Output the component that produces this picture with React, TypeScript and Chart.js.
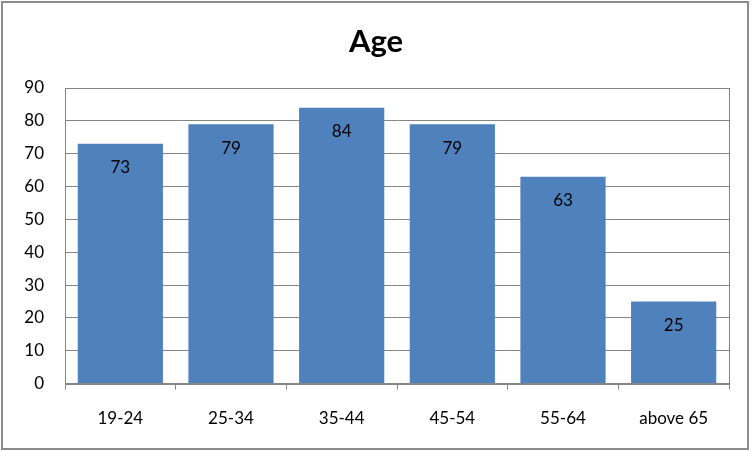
import React, { useEffect, useRef } from "react";
import { Chart, registerables } from "chart.js";

Chart.register(...registerables);

const categories = ["19-24", "25-34", "35-44", "45-54", "55-64", "above 65"];
const values = [73, 79, 84, 79, 63, 25];
const titleText = "Age";
const yMin = 0;
const yMax = 90;
const yStep = 10;

const FONT = "Lato, 'Open Sans', sans-serif";

const decorPlugin = {
  id: "decor",
  beforeDraw(chart: any) {
    const ctx = chart.ctx;
    ctx.save();
    ctx.fillStyle = "#ffffff";
    ctx.fillRect(0, 0, chart.width, chart.height);
    ctx.restore();
  },
  afterDraw(chart: any) {
    const ctx = chart.ctx;
    const a = chart.chartArea;
    ctx.save();
    // plot area box
    ctx.strokeStyle = "#868686";
    ctx.lineWidth = 1;
    ctx.strokeRect(Math.round(a.left) + 0.5, Math.round(a.top) + 0.5, Math.round(a.right - a.left), Math.round(a.bottom - a.top));
    // outer border
    ctx.strokeStyle = "#8c8c8c";
    ctx.lineWidth = 2;
    ctx.strokeRect(2, 2, chart.width - 7, chart.height - 4);
    // title
    ctx.fillStyle = "#000";
    ctx.font = `bold 31px ${FONT}`;
    ctx.textAlign = "center";
    ctx.textBaseline = "middle";
    ctx.fillText(titleText, 376, 42);
    // data labels
    const meta = chart.getDatasetMeta(0);
    ctx.font = `17px ${FONT}`;
    meta.data.forEach((bar: any, i: number) => {
      ctx.fillText(String(values[i]), bar.x, bar.y + 24);
    });
    ctx.restore();
  },
};

export default function App() {
  const ref = useRef<HTMLCanvasElement | null>(null);
  useEffect(() => {
    if (!ref.current) return;
    const chart = new Chart(ref.current, {
      type: "bar",
      data: {
        labels: categories,
        datasets: [
          {
            data: values,
            backgroundColor: "#4F81BD",
            borderWidth: 0,
            categoryPercentage: 1,
            barPercentage: 0.77,
          },
        ],
      },
      options: {
        responsive: false,
        animation: false,
        devicePixelRatio: 1,
        layout: { padding: { top: 88, right: 24, bottom: 3, left: 0 } },
        plugins: {
          legend: { display: false },
          title: { display: false },
          tooltip: { enabled: false },
        },
        scales: {
          x: {
            grid: {
              offset: true,
              drawOnChartArea: false,
              drawTicks: true,
              tickLength: 6,
              color: "#868686",
            },
            border: { display: true, color: "#868686" },
            ticks: {
              padding: 19,
              color: "#000",
              font: { family: FONT, size: 17 },
              maxRotation: 0,
            },
          },
          y: {
            min: yMin,
            max: yMax,
            afterFit: (scale: any) => {
              scale.width = 65;
            },
            grid: { color: "#868686", drawTicks: false },
            border: { display: true, color: "#868686" },
            ticks: {
              stepSize: yStep,
              padding: 21,
              color: "#000",
              font: { family: FONT, size: 17 },
            },
          },
        },
      },
      plugins: [decorPlugin],
    });
    return () => chart.destroy();
  }, []);
  return (
    <div style={{ position: "absolute", left: 0, top: 0, width: 753, height: 451 }}>
      <canvas ref={ref} width={753} height={451} style={{ width: 753, height: 451, display: "block" }} />
    </div>
  );
}
